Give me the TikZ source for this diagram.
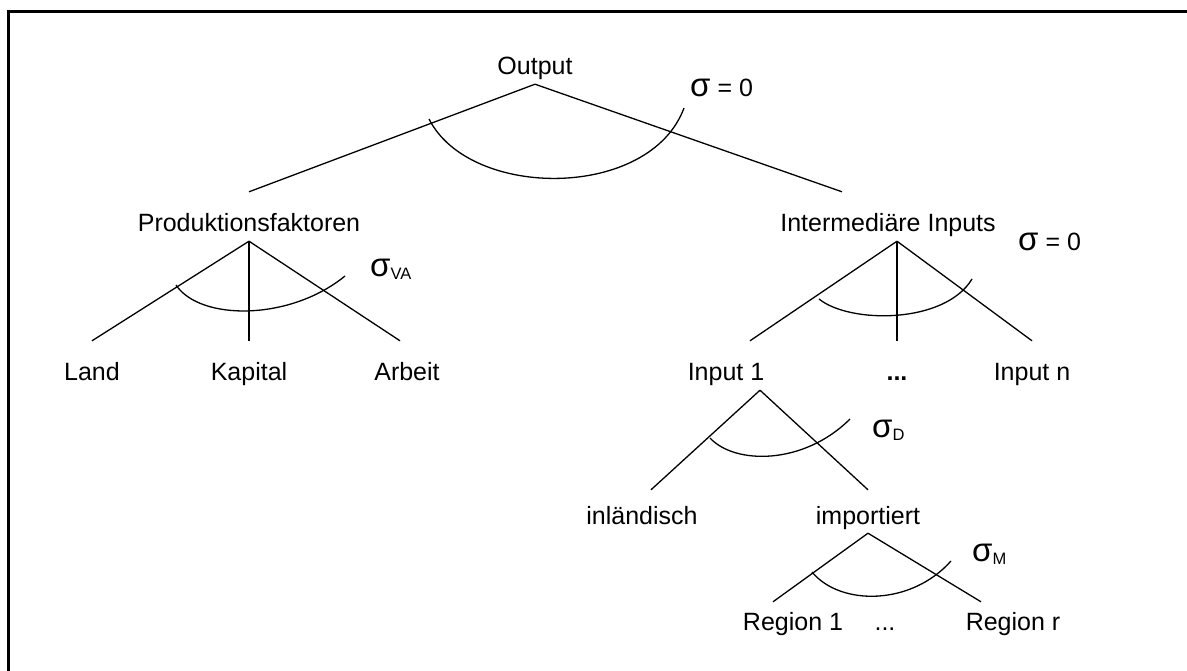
\documentclass[tikz,border=0pt]{standalone}
\usepackage{fontspec}
\setmainfont{Liberation Sans}
\usetikzlibrary{positioning,calc}
\newcommand{\bigsig}{{\fontsize{33}{33}\selectfont σ}}
\newcommand{\subtx}[1]{\raisebox{-3pt}{\fontsize{16.5}{17}\selectfont #1}}
\tikzset{lvl/.style={anchor=base, font=\fontsize{25}{27}\selectfont, text height=36pt, text depth=5pt, inner xsep=0pt, inner ysep=4pt},
  sig/.style={anchor=base west, inner sep=0pt, font=\fontsize{25}{27}\selectfont},
  br/.style={line width=1.3pt}}

\begin{document}
\begin{tikzpicture}[x=1pt, y=-1pt]
  \useasboundingbox (0,0) rectangle (1187,671);
  \draw[line width=2.6pt] (8.7,671) -- (8.7,11.3) -- (1187,11.3);
  % levels
  \node[lvl] (out) at (535,75) {Output};
  \node[lvl] (prod) at (249,232) {Produktionsfaktoren};
  \node[lvl] (int) at (888,232) {Intermediäre Inputs};
  \node[lvl] (land) at (92,381) {Land};
  \node[lvl] (kap) at (249,381) {Kapital};
  \node[lvl] (arb) at (407,381) {Arbeit};
  \node[lvl] (inp1) at (726,381) {Input 1};
  \node[lvl] (inpd) at (897,381) {\textbf{...}};
  \node[lvl] (inpn) at (1032,381) {Input n};
  \node[lvl, text height=30pt] (inl) at (642,524) {inländisch};
  \node[lvl, text height=30pt] (imp) at (868,524) {importiert};
  \node[lvl, text height=24pt] (reg1) at (793,630) {Region 1};
  \node[lvl, text height=24pt] (regd) at (885,630) {...};
  \node[lvl, text height=24pt] (regr) at (1013,630) {Region r};
  % elasticities
  \node[sig] (s0) at (690,97) {\bigsig\ = 0};
  \node[sig] (sva) at (370,277) {\bigsig\subtx{VA}};
  \node[sig] (s1) at (1018,251) {\bigsig\ = 0};
  \node[sig] (sd) at (872,437) {\bigsig\subtx{D}};
  \node[sig] (sm) at (972,561) {\bigsig\subtx{M}};
  % branches
  \draw[br] (prod.north) -- (out.south) -- ([xshift=-46pt]int.north);
  \draw[br] (prod.south) -- (land.north);
  \draw[br] (prod.south) -- (kap.north);
  \draw[br] (prod.south) -- ([xshift=-7pt]arb.north);
  \draw[br] ([xshift=9pt]int.south) -- ([xshift=24pt]inp1.north);
  \draw[br] ([xshift=9pt]int.south) -- (inpd.north);
  \draw[br] ([xshift=9pt]int.south) -- (inpn.north);
  \draw[br] ([xshift=34pt]inp1.south) -- ([xshift=9pt]inl.north);
  \draw[br] ([xshift=34pt]inp1.south) -- (imp.north);
  \draw[br] (imp.south) -- ([xshift=-20pt]reg1.north);
  \draw[br] (imp.south) -- ([xshift=-32pt]regr.north);
  % arcs
  \draw[br] (429,119) .. controls (470,200) and (650,200) .. (684,108);
  \draw[br] (176,285) .. controls (200,321) and (290,321) .. (345,276);
  \draw[br] (819,299) .. controls (850,324) and (945,324) .. (972,279);
  \draw[br] (710,438) .. controls (735,465) and (804,465) .. (850,419);
  \draw[br] (812,572) .. controls (840,606) and (911,606) .. (951,561);
\end{tikzpicture}
\end{document}
